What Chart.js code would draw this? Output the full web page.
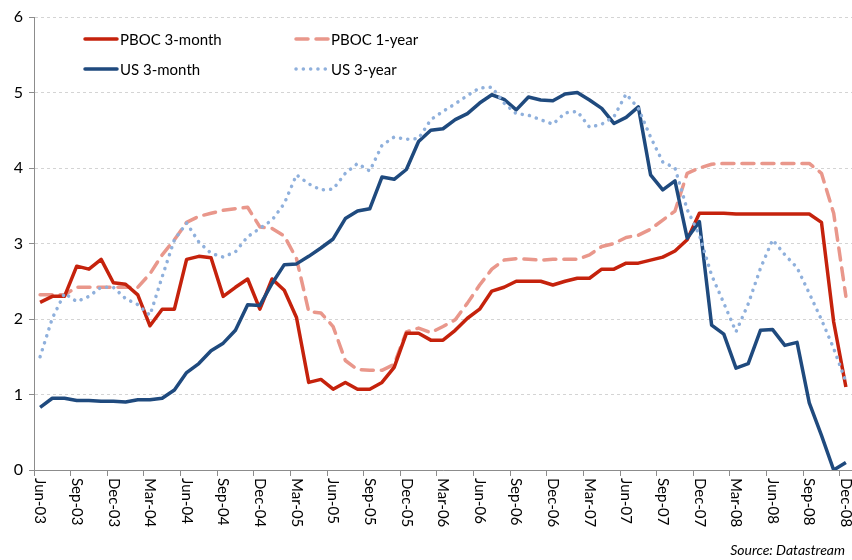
<!DOCTYPE html>
<html>
<head>
<meta charset="utf-8">
<script src="https://cdn.jsdelivr.net/npm/chart.js@4.4.1/dist/chart.umd.min.js"></script>
<style>
  html, body { margin: 0; padding: 0; background: #fff; }
  #wrap { width: 852px; height: 560px; }
</style>
</head>
<body>
<div id="wrap"><canvas id="rateChart" width="852" height="560"></canvas></div>
<script>
// monthly categories, Jun-03 .. Dec-08
const months = [
  'Jun-03','Jul-03','Aug-03','Sep-03','Oct-03','Nov-03','Dec-03',
  'Jan-04','Feb-04','Mar-04','Apr-04','May-04','Jun-04','Jul-04','Aug-04','Sep-04','Oct-04','Nov-04','Dec-04',
  'Jan-05','Feb-05','Mar-05','Apr-05','May-05','Jun-05','Jul-05','Aug-05','Sep-05','Oct-05','Nov-05','Dec-05',
  'Jan-06','Feb-06','Mar-06','Apr-06','May-06','Jun-06','Jul-06','Aug-06','Sep-06','Oct-06','Nov-06','Dec-06',
  'Jan-07','Feb-07','Mar-07','Apr-07','May-07','Jun-07','Jul-07','Aug-07','Sep-07','Oct-07','Nov-07','Dec-07',
  'Jan-08','Feb-08','Mar-08','Apr-08','May-08','Jun-08','Jul-08','Aug-08','Sep-08','Oct-08','Nov-08','Dec-08'
];
// only every third month gets a label
const tickEvery = 3;
const yTicks = [0, 1, 2, 3, 4, 5, 6];

const pboc3m = [
  2.22, 2.30, 2.30, 2.70, 2.66, 2.79, 2.48, 2.46, 2.32, 1.91,
  2.13, 2.13, 2.79, 2.83, 2.81, 2.30, 2.42, 2.53, 2.13, 2.53,
  2.38, 2.02, 1.16, 1.20, 1.07, 1.16, 1.07, 1.07, 1.16, 1.36,
  1.81, 1.81, 1.72, 1.72, 1.85, 2.01, 2.13, 2.37, 2.42, 2.50,
  2.50, 2.50, 2.45, 2.50, 2.54, 2.54, 2.66, 2.66, 2.74, 2.74,
  2.78, 2.82, 2.90, 3.05, 3.40, 3.40, 3.40, 3.39, 3.39, 3.39,
  3.39, 3.39, 3.39, 3.39, 3.28, 1.96, 1.10
];
const pboc1y = [
  2.32, 2.32, 2.32, 2.42, 2.42, 2.42, 2.42, 2.42, 2.42, 2.60,
  2.85, 3.05, 3.28, 3.36, 3.40, 3.44, 3.46, 3.48, 3.22, 3.20,
  3.10, 2.80, 2.10, 2.08, 1.90, 1.45, 1.33, 1.32, 1.32, 1.40,
  1.83, 1.88, 1.82, 1.90, 1.99, 2.21, 2.45, 2.66, 2.78, 2.80,
  2.79, 2.78, 2.79, 2.79, 2.79, 2.85, 2.96, 3.00, 3.08, 3.11,
  3.19, 3.31, 3.43, 3.93, 4.00, 4.05, 4.06, 4.06, 4.06, 4.06,
  4.06, 4.06, 4.06, 4.06, 3.93, 3.40, 2.30
];
const us3m = [
  0.83, 0.95, 0.95, 0.92, 0.92, 0.91, 0.91, 0.90, 0.93, 0.93,
  0.95, 1.06, 1.29, 1.41, 1.58, 1.68, 1.85, 2.19, 2.18, 2.47,
  2.72, 2.73, 2.83, 2.94, 3.06, 3.33, 3.43, 3.46, 3.88, 3.85,
  3.98, 4.35, 4.50, 4.52, 4.64, 4.72, 4.86, 4.97, 4.91, 4.77,
  4.94, 4.90, 4.89, 4.98, 5.00, 4.90, 4.79, 4.59, 4.67, 4.81,
  3.91, 3.71, 3.83, 3.07, 3.29, 1.92, 1.80, 1.35, 1.41, 1.85,
  1.86, 1.65, 1.69, 0.89, 0.46, 0.00, 0.10
];
const us3y = [
  1.50, 2.01, 2.34, 2.23, 2.30, 2.42, 2.42, 2.27, 2.19, 2.05,
  2.56, 3.05, 3.27, 3.02, 2.87, 2.82, 2.89, 3.09, 3.20, 3.31,
  3.53, 3.91, 3.79, 3.71, 3.72, 3.93, 4.06, 3.96, 4.30, 4.41,
  4.38, 4.39, 4.64, 4.75, 4.85, 4.96, 5.06, 5.07, 4.86, 4.72,
  4.70, 4.64, 4.58, 4.73, 4.75, 4.54, 4.58, 4.68, 4.98, 4.79,
  4.41, 4.08, 4.00, 3.45, 3.11, 2.58, 2.21, 1.83, 2.20, 2.67,
  3.05, 2.85, 2.68, 2.34, 1.99, 1.61, 1.17
];

const FONT = 'Lato, "Open Sans", sans-serif';
const RED = '#c5220c';
const SALMON = '#e9978b';
const NAVY = '#1f4a7e';
const SKY = '#8fb0dc';

// legend laid out 2 x 2 like the original
const legendItems = [
  { text: 'PBOC 3-month', color: RED,    dash: [],        x: 85,  y: 39 },
  { text: 'PBOC 1-year',  color: SALMON, dash: [12, 8],   x: 296, y: 39 },
  { text: 'US 3-month',   color: NAVY,   dash: [],        x: 85,  y: 69 },
  { text: 'US 3-year',    color: SKY,    dash: [0.1, 7.2], x: 296, y: 69 }
];

const extrasPlugin = {
  id: 'extras',
  afterDraw(chart) {
    const ctx = chart.ctx;
    const xs = chart.scales.x;

    // vertical month labels, reading downward
    ctx.save();
    ctx.fillStyle = '#000';
    ctx.font = '15px ' + FONT;
    ctx.textAlign = 'left';
    ctx.textBaseline = 'middle';
    months.forEach((m, i) => {
      if (i % tickEvery !== 0) return;
      const px = xs.getPixelForValue(i);
      ctx.save();
      ctx.translate(px, xs.top + 8);
      ctx.rotate(Math.PI / 2);
      ctx.fillText(m, 0, 0);
      ctx.restore();
    });
    ctx.restore();

    // legend
    ctx.save();
    legendItems.forEach(it => {
      ctx.strokeStyle = it.color;
      ctx.lineWidth = 3.5;
      ctx.lineCap = it.dash.length ? 'round' : 'round';
      ctx.setLineDash(it.dash);
      ctx.beginPath();
      ctx.moveTo(it.x, it.y);
      ctx.lineTo(it.x + 32, it.y);
      ctx.stroke();
      ctx.setLineDash([]);
      ctx.fillStyle = '#000';
      ctx.font = '15px ' + FONT;
      ctx.textAlign = 'left';
      ctx.textBaseline = 'middle';
      ctx.fillText(it.text, it.x + 35, it.y + 1);
    });
    ctx.restore();

    // source note
    ctx.save();
    ctx.fillStyle = '#000';
    ctx.font = 'italic 14px ' + FONT;
    ctx.textAlign = 'right';
    ctx.textBaseline = 'alphabetic';
    ctx.fillText('Source: Datastream', 845, 555);
    ctx.restore();
  }
};

function line(label, data, color, dash, order) {
  return {
    label: label,
    data: data,
    borderColor: color,
    backgroundColor: color,
    borderWidth: 3.5,
    borderDash: dash,
    borderCapStyle: dash.length ? 'round' : 'butt',
    borderJoinStyle: 'round',
    pointRadius: 0,
    tension: 0,
    fill: false,
    order: order
  };
}

new Chart(document.getElementById('rateChart'), {
  type: 'line',
  data: {
    labels: months,
    datasets: [
      line('PBOC 3-month', pboc3m, RED, [], 2),
      line('PBOC 1-year', pboc1y, SALMON, [12, 8], 3),
      line('US 3-month', us3m, NAVY, [], 1),
      line('US 3-year', us3y, SKY, [0.1, 7.2], 0)
    ]
  },
  options: {
    responsive: false,
    animation: false,
    layout: { padding: { top: 17, right: 0, left: 0, bottom: 0 } },
    plugins: {
      legend: { display: false },
      tooltip: { enabled: false }
    },
    scales: {
      x: {
        type: 'category',
        offset: true,
        afterFit(scale) { scale.height = 90; },
        ticks: { display: false, autoSkip: false },
        grid: {
          offset: true,
          drawOnChartArea: false,
          drawTicks: true,
          tickLength: 6,
          tickColor: (c) => (c.index % tickEvery === 0 ? '#8c8c8c' : 'rgba(0,0,0,0)'),
          tickWidth: 1
        },
        border: { display: true, color: '#8c8c8c', width: 1 }
      },
      y: {
        min: 0,
        max: 6,
        afterFit(scale) { scale.width = 34; },
        afterBuildTicks(scale) { scale.ticks = yTicks.map(v => ({ value: v })); },
        ticks: {
          color: '#000',
          padding: 6,
          font: { family: FONT, size: 16 },
          callback: (v) => String(v)
        },
        grid: {
          color: '#d4d4d4',
          lineWidth: 1,
          drawTicks: true,
          tickLength: 5,
          tickColor: '#8c8c8c'
        },
        border: { display: true, color: '#8c8c8c', width: 1, dash: [3, 3] }
      }
    }
  },
  plugins: [extrasPlugin]
});
</script>
</body>
</html>
